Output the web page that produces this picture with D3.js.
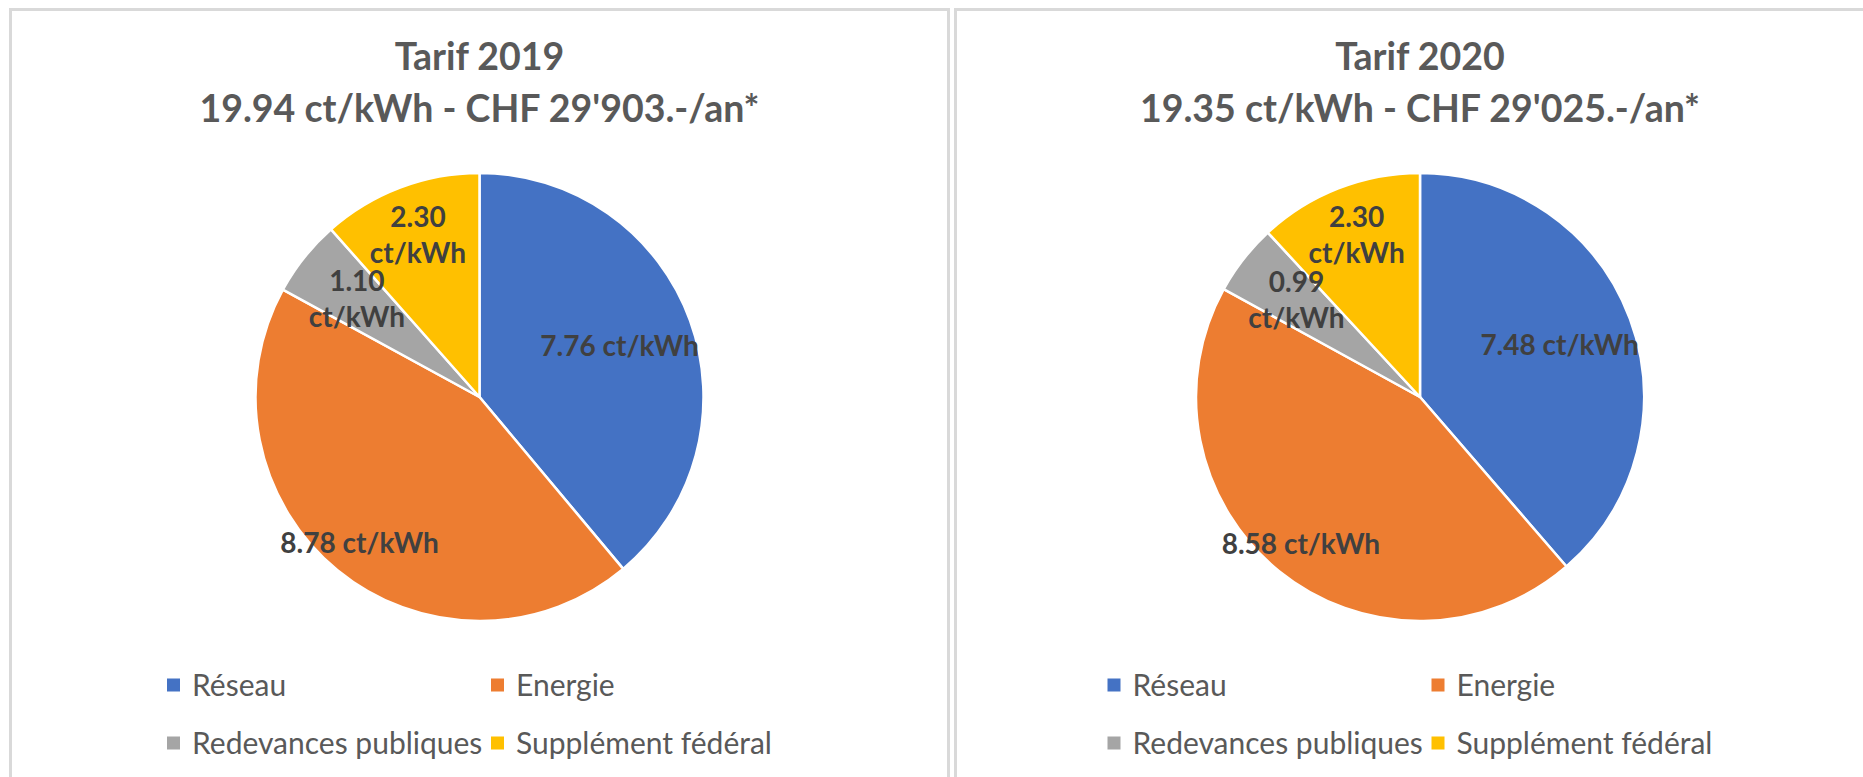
<!DOCTYPE html>
<html>
<head>
<meta charset="utf-8">
<script src="https://cdnjs.cloudflare.com/ajax/libs/d3/7.8.5/d3.min.js"></script>
<style>
  body { margin: 0; background: #fff; }
  text { font-family: Lato, "Open Sans", sans-serif; }
</style>
</head>
<body>
<div id="chart"></div>
<script>
// data
var categories = ["Réseau", "Energie", "Redevances publiques", "Supplément fédéral"];
var years = ["2019", "2020"];
var totals = ["19.94", "19.35"];
var yearlyCost = ["29'903", "29'025"];
var values2019 = [7.76, 8.78, 1.10, 2.30];
var values2020 = [7.48, 8.58, 0.99, 2.30];
var colors = ["#4472C4", "#ED7D31", "#A5A5A5", "#FFC000"];

// label placement (fraction of radius) and whether it wraps onto two lines
var labelRadius = [0.665, 0.845, 0.70, 0.775];
var labelWrap = [false, false, true, true];

var W = 1863, H = 777;

var svg = d3.select("#chart").append("svg")
    .attr("width", W)
    .attr("height", H);

svg.append("rect").attr("width", W).attr("height", H).attr("fill", "#fff");

var panels = [
  { x0: 10.5, x1: 948.5, cx: 479.5, values: values2019, i: 0 },
  { x0: 955.5, x1: 1885, cx: 1420, values: values2020, i: 1 }
];

panels.forEach(function(p) { drawPanel(p); });

function drawPanel(p) {
  var g = svg.append("g");

  // chart area border (no bottom edge visible in the crop)
  g.append("path")
    .attr("d", "M" + p.x0 + "," + (H + 5) + "V9.5H" + p.x1 + "V" + (H + 5))
    .attr("fill", "none")
    .attr("stroke", "#d9d9d9")
    .attr("stroke-width", 3);

  // title
  var title = g.append("text")
    .attr("x", p.cx)
    .attr("text-anchor", "middle")
    .attr("fill", "#595959")
    .style("font-weight", "700")
    .style("font-size", "37.5px");
  title.append("tspan").attr("x", p.cx).attr("y", 70).text("Tarif " + years[p.i]);
  title.append("tspan").attr("x", p.cx).attr("y", 122)
    .text(totals[p.i] + " ct/kWh - CHF " + yearlyCost[p.i] + ".-/an*");

  // pie
  var r = 224, cy = 397;
  var pie = d3.pie().sort(null).value(function(d) { return d; });
  var arc = d3.arc().innerRadius(0).outerRadius(r);
  var arcs = pie(p.values);

  var pg = g.append("g").attr("transform", "translate(" + p.cx + "," + cy + ")");

  pg.selectAll(".slice")
    .data(arcs)
    .enter()
    .append("path")
    .attr("class", "slice")
    .attr("d", arc)
    .attr("fill", function(d, i) { return colors[i]; })
    .attr("stroke", "#fff")
    .attr("stroke-width", 2.5)
    .attr("stroke-linejoin", "round");

  // data labels
  arcs.forEach(function(d, i) {
    var la = d3.arc().innerRadius(r * labelRadius[i]).outerRadius(r * labelRadius[i]);
    var c = la.centroid(d);
    var txt = pg.append("text")
      .attr("text-anchor", "middle")
      .attr("fill", "#404040")
      .style("font-weight", "700")
      .style("font-size", "28px");
    var val = d.data.toFixed(2);
    if (labelWrap[i]) {
      txt.append("tspan").attr("x", c[0]).attr("y", c[1] - 18 + 10).text(val);
      txt.append("tspan").attr("x", c[0]).attr("y", c[1] + 18 + 10).text("ct/kWh");
    } else {
      txt.attr("x", c[0]).attr("y", c[1] + 10).text(val + " ct/kWh");
    }
  });

  // legend
  var col1 = p.cx - 312.5, col2 = p.cx + 11.5;
  var rows = [685, 743];
  var lg = g.selectAll(".leg")
    .data(categories)
    .enter()
    .append("g")
    .attr("class", "leg")
    .attr("transform", function(d, i) {
      return "translate(" + (i % 2 == 0 ? col1 : col2) + "," + rows[Math.floor(i / 2)] + ")";
    });
  lg.append("rect")
    .attr("x", 0).attr("y", -6.5)
    .attr("width", 13).attr("height", 13)
    .attr("fill", function(d, i) { return colors[i]; });
  lg.append("text")
    .attr("x", 25)
    .attr("y", 10.5)
    .attr("fill", "#595959")
    .style("font-size", "30px")
    .text(function(d) { return d; });
}
</script>
</body>
</html>
